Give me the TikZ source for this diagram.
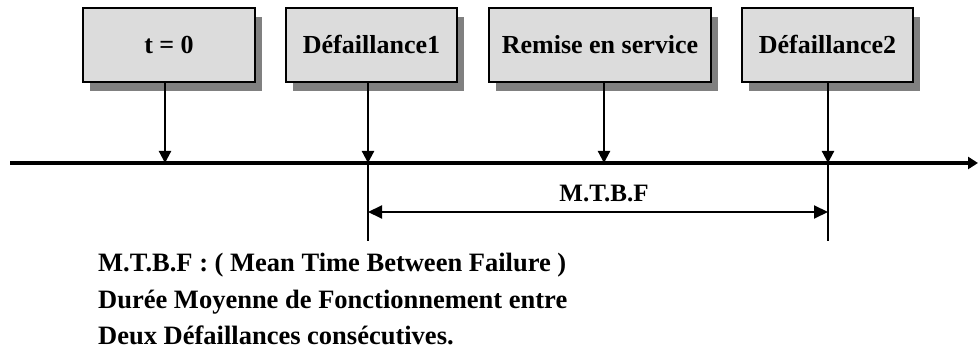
\documentclass[tikz,border=0pt]{standalone}
\usepackage{fontspec}
\setmainfont{Liberation Serif}
\usetikzlibrary{arrows.meta,shadows}
\begin{document}
\begin{tikzpicture}[x=1pt,y=-1pt,
  event/.style={draw=black, line width=2.3pt, fill=boxgray, minimum height=74pt,
    inner sep=0pt, text height=18pt, text depth=0pt, font=\fontsize{26}{30}\selectfont\bfseries,
    drop shadow={shadow xshift=7pt, shadow yshift=-9pt, fill=shadowgray, opacity=1}},
  link/.style={line width=2.2pt, -{Triangle[length=12pt,width=12pt]}},
  tick/.style={line width=2.2pt},
  axis/.style={line width=3.4pt, -{Triangle[length=10pt,width=12pt]}},
  span/.style={line width=2pt, {Triangle[length=14pt,width=13pt]}-{Triangle[length=14pt,width=13pt]}},
  note/.style={font=\fontsize{26.5}{36.5}\selectfont\bfseries, align=left, anchor=base west, inner sep=0pt}
]
\definecolor{boxgray}{RGB}{220,220,220}
\definecolor{shadowgray}{RGB}{128,128,128}
\useasboundingbox (0,0) rectangle (978,352);

% event boxes
\node[event, minimum width=172pt] (t0)  at (169,45) {t = 0};
\node[event, minimum width=171pt] (d1)  at (371.5,45) {Défaillance1};
\node[event, minimum width=222pt] (rs)  at (600,45) {Remise en service};
\node[event, minimum width=171pt] (d2)  at (827.5,45) {Défaillance2};

% time axis
\coordinate (a0) at (10,163);
\coordinate (a1) at (978,163);
\draw[axis] (a0) -- (a1);

% points on the axis
\coordinate (p0) at (165,163);
\coordinate (p1) at (368,163);
\coordinate (p2) at (604,163);
\coordinate (p3) at (828,163);
\coordinate (q1) at (368,241);
\coordinate (q3) at (828,241);
\coordinate (m1) at (368,212);
\coordinate (m3) at (828,212);

\draw[link] (t0.south -| p0) -- (p0);
\draw[link] (d1.south -| p1) -- (p1);
\draw[link] (rs.south -| p2) -- (p2);
\draw[link] (d2.south -| p3) -- (p3);
\draw[tick] (p1) -- (q1);
\draw[tick] (p3) -- (q3);

% MTBF interval
\draw[span] (m1) -- (m3);
\node[anchor=base, inner sep=0pt, font=\fontsize{25}{28}\selectfont\bfseries] (lab) at (604,202) {M.T.B.F};

% definition (three lines, last baseline given)
\node[note] (def) at (98,345) {M.T.B.F : ( Mean Time Between Failure )\\
Durée Moyenne de Fonctionnement entre\\
Deux Défaillances consécutives.};
\end{tikzpicture}
\end{document}
